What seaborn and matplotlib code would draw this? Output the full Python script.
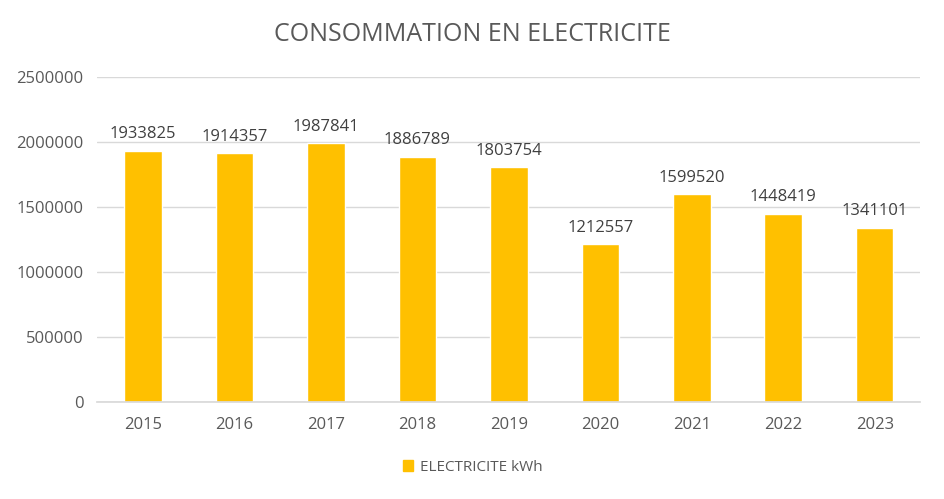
import matplotlib
matplotlib.use("Agg")
import matplotlib.pyplot as plt
import seaborn as sns
import pandas as pd
from matplotlib.patches import Patch

years = ["2015", "2016", "2017", "2018", "2019", "2020", "2021", "2022", "2023"]
values = [1933825, 1914357, 1987841, 1886789, 1803754, 1212557, 1599520, 1448419, 1341101]
series_name = "ELECTRICITE kWh"
title = "CONSOMMATION EN ELECTRICITE"
yticks = [0, 500000, 1000000, 1500000, 2000000, 2500000]

sns.set_theme(style="white")
plt.rcParams['font.family'] = ['Open Sans', 'DejaVu Sans']

df = pd.DataFrame({"year": years, "value": values})
fig = plt.figure(figsize=(9.45, 4.99), dpi=100)
ax = fig.add_axes([0.103, 0.194, 0.871, 0.652])
color = "#FFC000"
sns.barplot(data=df, x="year", y="value", color=color, width=0.41, ax=ax, saturation=1)
ax.set_ylim(0, 2500000)
ax.set_xlim(-0.5, len(years) - 0.5)
ax.set_yticks(yticks)
ax.set_yticklabels([str(v) for v in yticks])
ax.grid(axis="y", color="#D9D9D9", linewidth=1)
ax.set_axisbelow(True)
for s in ["top", "right", "left"]:
    ax.spines[s].set_visible(False)
ax.spines["bottom"].set_color("#D9D9D9")
ax.tick_params(axis="y", length=0, labelsize=12, colors="#595959", pad=10)
ax.tick_params(axis="x", length=0, labelsize=12, colors="#595959", pad=11)
ax.set_xlabel("")
ax.set_ylabel("")
for c in ax.containers:
    ax.bar_label(c, labels=[str(v) for v in values], padding=6, fontsize=12, color="#404040")
fig.text(0.5, 0.93, title, ha="center", va="center", fontsize=18, color="#595959")
fig.legend(handles=[Patch(color=color, label=series_name)], loc="center", bbox_to_anchor=(0.5, 0.064),
           frameon=False, fontsize=11, handlelength=0.7, handleheight=0.7, handletextpad=0.4,
           labelcolor="#595959")
fig.savefig("out.png", dpi=100)
